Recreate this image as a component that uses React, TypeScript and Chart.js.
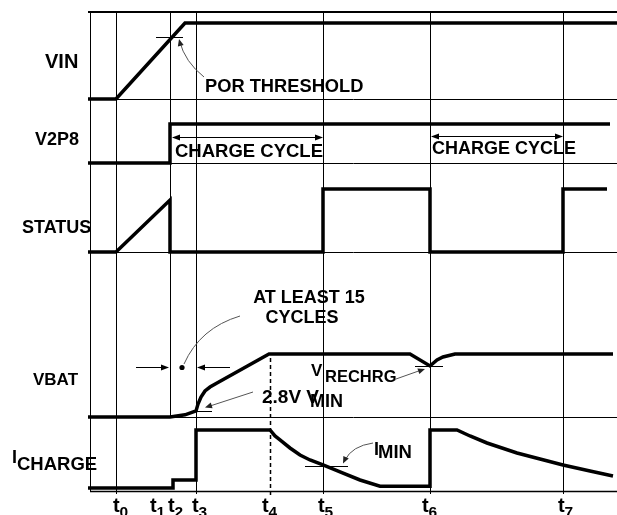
import React, { useEffect, useRef } from "react";
import { Chart, registerables } from "chart.js";
Chart.register(...registerables);

// ---- time axis (arbitrary units) ----
const eventNames = ["0", "1", "2", "3", "4", "5", "6", "7"];
const eventLabelTimes = [23, 60, 78, 102, 172, 228, 332, 468];
const fullMarkerTimes = [26, 106, 233, 340, 473]; // t0, t3, t5, t6, t7
const t2Time = 80;
const t4Time = 180;

// ---- lanes (signal name, base level, span) ----
const laneNames = ["VIN", "V2P8", "STATUS", "VBAT", "ICHARGE"];
const laneBase = [392, 328, 239, 74, 3];
const laneSpan = [76, 39, 63, 63, 58];
const laneDividers = [392, 328, 239, 74];

// ---- signals: time points and normalized levels ----
const vinT = [-2, 26, 95, 527];
const vinV = [0, 0, 1, 1];
const v2p8T = [-2, 80, 80, 520];
const v2p8V = [0, 0, 1, 1];
const statusT = [-2, 26, 80, 80, 233, 233, 340, 340, 473, 473, 517];
const statusV = [0, 0, 0.825, 0, 0, 1, 1, 0, 0, 1, 1];
const vbatT = [-2, 80, 95, 106, 108, 111, 115, 120, 127, 179, 320, 340, 347, 353, 365, 523];
const vbatV = [0, 0, 0.035, 0.095, 0.206, 0.317, 0.413, 0.476, 0.54, 1, 1, 0.81, 0.905, 0.952, 1, 1];
const ichgT = [-2, 83, 83, 106, 106, 180, 185, 190, 200, 210, 220, 233, 250, 270, 290, 340, 340, 367, 380, 397, 427, 450, 473, 500, 523];
const ichgV = [0, 0, 0.14, 0.14, 1, 1, 0.897, 0.828, 0.69, 0.569, 0.483, 0.397, 0.276, 0.138, 0.03, 0.03, 1, 1, 0.897, 0.776, 0.603, 0.5, 0.397, 0.293, 0.207];

const signalT = [vinT, v2p8T, statusT, vbatT, ichgT];
const signalV = [vinV, v2p8V, statusV, vbatV, ichgV];

const FONT = "'Liberation Sans', Arial, Helvetica, sans-serif";

function seg(ctx: CanvasRenderingContext2D, x1: number, y1: number, x2: number, y2: number, w = 1) {
  ctx.lineWidth = w;
  ctx.beginPath();
  ctx.moveTo(x1, y1);
  ctx.lineTo(x2, y2);
  ctx.stroke();
}

function head(ctx: CanvasRenderingContext2D, fx: number, fy: number, tx: number, ty: number, len = 7, hw = 3) {
  const a = Math.atan2(ty - fy, tx - fx);
  ctx.beginPath();
  ctx.moveTo(tx, ty);
  ctx.lineTo(tx - len * Math.cos(a) + hw * Math.sin(a), ty - len * Math.sin(a) - hw * Math.cos(a));
  ctx.lineTo(tx - len * Math.cos(a) - hw * Math.sin(a), ty - len * Math.sin(a) + hw * Math.cos(a));
  ctx.closePath();
  ctx.fill();
}

function txt(ctx: CanvasRenderingContext2D, s: string, x: number, y: number, size: number, align: CanvasTextAlign = "left") {
  ctx.font = `bold ${size}px ${FONT}`;
  ctx.textAlign = align;
  ctx.textBaseline = "alphabetic";
  ctx.fillText(s, x, y);
}

const diagramPlugin = {
  id: "diagram",
  beforeDatasetsDraw(chart: any) {
    const { ctx, scales } = chart;
    const X = (v: number) => scales.x.getPixelForValue(v);
    const Y = (v: number) => scales.y.getPixelForValue(v);
    ctx.save();
    ctx.strokeStyle = "#000";
    // top border
    seg(ctx, X(-2), Y(479), X(527), Y(479), 2);
    // lane dividers
    laneDividers.forEach((d) => seg(ctx, X(0), Y(d) + 0.5, X(527), Y(d) + 0.5, 1));
    // bottom axis
    seg(ctx, X(0), Y(0) + 0.5, X(527), Y(0) + 0.5, 1.5);
    // left border
    seg(ctx, X(0) + 0.5, Y(0), X(0) + 0.5, Y(479), 1);
    // event markers
    fullMarkerTimes.forEach((t) => seg(ctx, X(t) + 0.5, Y(-3), X(t) + 0.5, Y(479), 1));
    seg(ctx, X(t2Time) + 0.5, Y(74), X(t2Time) + 0.5, Y(479), 1);
    ctx.setLineDash([4, 3]);
    seg(ctx, X(t4Time) + 0.5, Y(-4), X(t4Time) + 0.5, Y(137), 1.5);
    ctx.setLineDash([]);
    ctx.restore();
  },
  afterDatasetsDraw(chart: any) {
    const { ctx, scales } = chart;
    const X = (v: number) => scales.x.getPixelForValue(v);
    ctx.save();
    ctx.fillStyle = "#000";
    ctx.strokeStyle = "#000";

    // lane labels
    txt(ctx, "VIN", 45, 68, 20);
    txt(ctx, "V2P8", 35, 145, 18);
    txt(ctx, "STATUS", 22, 233, 18);
    txt(ctx, "VBAT", 33, 385, 17);
    txt(ctx, "I", 12, 463, 18);
    txt(ctx, "CHARGE", 17, 470, 18.5);

    // time labels
    eventNames.forEach((n, i) => {
      const px = X(eventLabelTimes[i]);
      txt(ctx, "t", px, 512, 20);
      txt(ctx, n, px + 6.5, 517, 15.5);
    });

    // POR threshold
    seg(ctx, 156, 37.5, 183, 37.5, 1);
    txt(ctx, "POR THRESHOLD", 205, 92, 18.3);
    ctx.strokeStyle = "#555";
    ctx.fillStyle = "#222";
    ctx.lineWidth = 1;
    ctx.beginPath();
    ctx.moveTo(204, 77);
    ctx.quadraticCurveTo(185, 62, 179.5, 41);
    ctx.stroke();
    head(ctx, 185, 62, 179, 39, 7, 3);

    // charge cycle arrows
    ctx.strokeStyle = "#000";
    ctx.fillStyle = "#000";
    seg(ctx, 173, 137.5, 321, 137.5, 1);
    head(ctx, 200, 137.5, 172, 137.5, 8, 3);
    head(ctx, 300, 137.5, 323, 137.5, 8, 3);
    txt(ctx, "CHARGE CYCLE", 175, 157, 18.5);
    seg(ctx, 432, 136.5, 561, 136.5, 1);
    head(ctx, 460, 136.5, 431, 136.5, 8, 3);
    head(ctx, 540, 136.5, 563, 136.5, 8, 3);
    txt(ctx, "CHARGE CYCLE", 432, 154, 18);

    // at least 15 cycles
    txt(ctx, "AT LEAST 15", 309, 303, 18, "center");
    txt(ctx, "CYCLES", 302, 323, 18, "center");
    seg(ctx, 136, 367.5, 166, 367.5, 1);
    head(ctx, 140, 367.5, 169, 367.5, 8, 3);
    seg(ctx, 230, 367.5, 200, 367.5, 1);
    head(ctx, 226, 367.5, 197, 367.5, 8, 3);
    ctx.beginPath();
    ctx.arc(182, 367.5, 2.6, 0, Math.PI * 2);
    ctx.fill();
    ctx.strokeStyle = "#555";
    ctx.beginPath();
    ctx.moveTo(184, 364);
    ctx.quadraticCurveTo(200, 328, 240, 316);
    ctx.stroke();

    // 2.8V VMIN
    ctx.strokeStyle = "#000";
    ctx.fillStyle = "#000";
    seg(ctx, 196, 411.5, 212, 411.5, 1);
    txt(ctx, "2.8V V", 262, 403, 19);
    txt(ctx, "MIN", 310, 407, 18);
    ctx.strokeStyle = "#555";
    ctx.fillStyle = "#222";
    seg(ctx, 253, 392, 210, 406, 1);
    head(ctx, 253, 392, 205, 407.5, 7, 3);

    // VRECHRG
    ctx.strokeStyle = "#000";
    ctx.fillStyle = "#000";
    seg(ctx, 415, 366.5, 443, 366.5, 1);
    txt(ctx, "V", 311, 376, 17);
    txt(ctx, "RECHRG", 325, 382, 16.5);
    ctx.strokeStyle = "#555";
    ctx.fillStyle = "#222";
    seg(ctx, 396, 379, 420, 370.5, 1);
    head(ctx, 396, 379, 425, 369, 7, 3);

    // IMIN
    ctx.strokeStyle = "#000";
    ctx.fillStyle = "#000";
    seg(ctx, 305, 466.5, 348, 466.5, 1);
    txt(ctx, "I", 374, 455, 18);
    txt(ctx, "MIN", 378, 458, 18.5);
    ctx.strokeStyle = "#555";
    ctx.fillStyle = "#222";
    ctx.beginPath();
    ctx.moveTo(373, 443);
    ctx.quadraticCurveTo(352, 446, 345, 460);
    ctx.stroke();
    head(ctx, 350, 449, 343, 463.5, 7, 3);

    ctx.restore();
  },
};

export default function App() {
  const ref = useRef<HTMLCanvasElement>(null);
  useEffect(() => {
    document.body.style.margin = "0";
    const datasets = laneNames.map((name, i) => ({
      label: name,
      data: signalT[i].map((t, j) => ({ x: t, y: laneBase[i] + signalV[i][j] * laneSpan[i] })),
      borderColor: "#000",
      backgroundColor: "#000",
      borderWidth: 3.5,
      pointRadius: 0,
      fill: false,
      tension: 0,
      borderCapStyle: "butt" as const,
      borderJoinStyle: "miter" as const,
      clip: false as any,
    }));
    const chart = new Chart(ref.current!, {
      type: "line",
      data: { datasets },
      options: {
        animation: false,
        responsive: false,
        devicePixelRatio: 1,
        layout: { padding: { left: 90, right: 0, top: 12, bottom: 24 } },
        scales: {
          x: { type: "linear", min: 0, max: 527, display: false },
          y: { type: "linear", min: 0, max: 479, display: false },
        },
        plugins: { legend: { display: false }, tooltip: { enabled: false } },
        events: [],
      },
      plugins: [diagramPlugin],
    });
    return () => chart.destroy();
  }, []);
  return (
    <div style={{ position: "absolute", left: 0, top: 0, width: 617, height: 515, background: "#fff" }}>
      <canvas ref={ref} width={617} height={515} style={{ display: "block" }} />
    </div>
  );
}
